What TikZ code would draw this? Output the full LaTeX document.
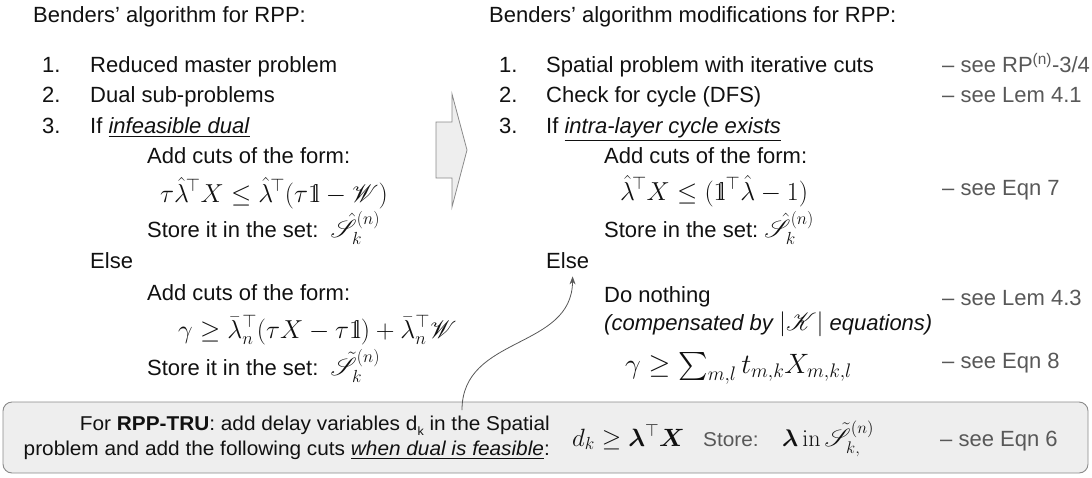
\RequirePackage{fix-cm}
\documentclass[tikz,border=0pt]{standalone}
\usepackage{amsmath,amssymb}
\usepackage{mathrsfs}
\usepackage[no-math]{fontspec}
\setmainfont{Liberation Sans}
\newfontfamily\boxfont[FakeStretch=1.04]{Liberation Sans}
\usepackage{bm}
\usetikzlibrary{arrows.meta}
\newcommand{\bbone}{\mathrm{1}\mkern-4.5mu\mathrm{l}}
\newcommand{\mfs}{\fontsize{25}{30}\selectfont}
\definecolor{seegray}{HTML}{585858}
\definecolor{boxfill}{HTML}{EEEEEE}
\definecolor{boxline}{HTML}{8A8A8A}
\definecolor{txtcol}{HTML}{111111}
\tikzset{
  txt/.style={anchor=base west, inner sep=0pt, text=txtcol, font=\fontsize{22}{26}\selectfont},
  seetxt/.style={txt, text=seegray},
  mth/.style={anchor=base west, inner sep=0pt, text=txtcol, font=\fontsize{26}{30}\selectfont},
  boxtxt/.style={anchor=base east, inner sep=0pt, text=txtcol, font=\boxfont\fontsize{20}{24}\selectfont},
}
\begin{document}
\begin{tikzpicture}[x=1pt,y=-1pt]
\useasboundingbox (0,0) rectangle (1092,477);
% ---------- left column ----------
\node[txt] (tL) at (33,22) {Benders' algorithm for RPP:};
\node[txt] (l1n) at (42,72) {1.};
\node[txt] (l1) at (90,72) {Reduced master problem};
\node[txt] (l2n) at (42,102) {2.};
\node[txt] (l2) at (90,102) {Dual sub-problems};
\node[txt] (l3n) at (42,133) {3.};
\node[txt] (l3) at (90,133) {If \underline{\textit{infeasible dual}}};
\node[txt] (l4) at (147,163) {Add cuts of the form:};
\node[mth] (l5) at (160,202) {$\displaystyle\tau\hat{\lambda}^{\!\top}X \le \hat{\lambda}^{\!\top}(\tau\bbone-\mathscr{W})$};
\node[txt] (l6) at (147,237) {Store it in the set:\ \ {\mfs$\displaystyle\hat{\mathscr{S}}_k^{(n)}$}};
\node[txt] (l7) at (90,268) {Else};
\node[txt] (l8) at (147,300) {Add cuts of the form:};
\node[mth] (l9) at (178,338) {$\displaystyle\gamma \ge \bar{\lambda}_n^{\top}(\tau X-\tau\bbone)+\bar{\lambda}_n^{\top}\mathscr{W}$};
\node[txt] (l10) at (147,375) {Store it in the set:\ \ {\mfs$\displaystyle\tilde{\mathscr{S}}_k^{(n)}$}};
% ---------- block arrow ----------
\draw[boxline, fill=boxfill, line width=0.8pt, line join=miter]
  (436,122) -- (452,122) -- (452,94) -- (467,150) -- (452,207) -- (452,178) -- (436,178) -- cycle;
% ---------- right column ----------
\node[txt] (tR) at (489,22) {Benders' algorithm modifications for RPP:};
\node[txt] (r1n) at (499,72) {1.};
\node[txt] (r1) at (546,72) {Spatial problem with iterative cuts};
\node[seetxt] (s1) at (942,72) {-- see RP\textsuperscript{(n)}-3/4};
\node[txt] (r2n) at (499,102) {2.};
\node[txt] (r2) at (546,102) {Check for cycle (DFS)};
\node[seetxt] (s2) at (942,102) {-- see Lem 4.1};
\node[txt] (r3n) at (499,133) {3.};
\node[txt] (r3) at (546,133) {If \underline{\textit{intra-layer cycle exists}}};
\node[txt] (r4) at (604,163) {Add cuts of the form:};
\node[mth] (r5) at (620,200) {$\displaystyle\hat{\lambda}^{\!\top}X \le (\bbone^{\top}\hat{\lambda}-1)$};
\node[seetxt] (s3) at (942,195) {-- see Eqn 7};
\node[txt] (r6) at (604,237) {Store in the set:\ {\mfs$\displaystyle\hat{\mathscr{S}}_k^{(n)}$}};
\node[txt] (r7) at (546,268) {Else};
\node[txt] (r8) at (604,302) {Do nothing};
\node[seetxt] (s4) at (942,305) {-- see Lem 4.3};
\node[txt] (r9) at (604,330) {\textit{(compensated by {\mfs$|\mathscr{K}|$} equations)}};
\node[mth, font=\fontsize{28}{32}\selectfont] (r10) at (625,373) {$\gamma \ge \sum_{m,l} t_{m,k}X_{m,k,l}$};
\node[seetxt] (s5) at (942,368) {-- see Eqn 8};
% ---------- bottom box ----------
\draw[boxline, fill=boxfill, line width=0.9pt, rounded corners=9pt] (3,402) rectangle (1088,473);
\node[boxtxt] (b1) at (550,430) {For \textbf{RPP-TRU}: add delay variables d\raisebox{-5pt}{\fontsize{12}{12}\selectfont k}\ in the Spatial};
\node[boxtxt] (b2) at (550,455) {problem and add the following cuts \underline{\textit{when dual is feasible}}:};
\node[mth, font=\fontsize{25}{28}\selectfont] (b3) at (572,446) {$d_k \ge \bm\lambda^{\top}\bm X$};
\node[anchor=base west, inner sep=0pt, text=seegray, font=\boxfont\fontsize{20}{24}\selectfont] (b4) at (703,446) {Store:};
\node[mth, font=\fontsize{24}{28}\selectfont] (b5) at (782,446) {$\displaystyle\bm\lambda\,\mathrm{in}\,\tilde{\mathscr{S}}_{k,}^{(n)}$};
\node[seetxt] (s6) at (940,446) {-- see Eqn 6};
% ---------- curved connector ----------
\coordinate (dk) at (462,410);
\draw[seegray, line width=0.8pt, -{Stealth[length=8pt,width=6pt]}]
  (dk) .. controls (462,335) and (572,350) .. ([shift={(5,8)}]r7.south);
\end{tikzpicture}
\end{document}
